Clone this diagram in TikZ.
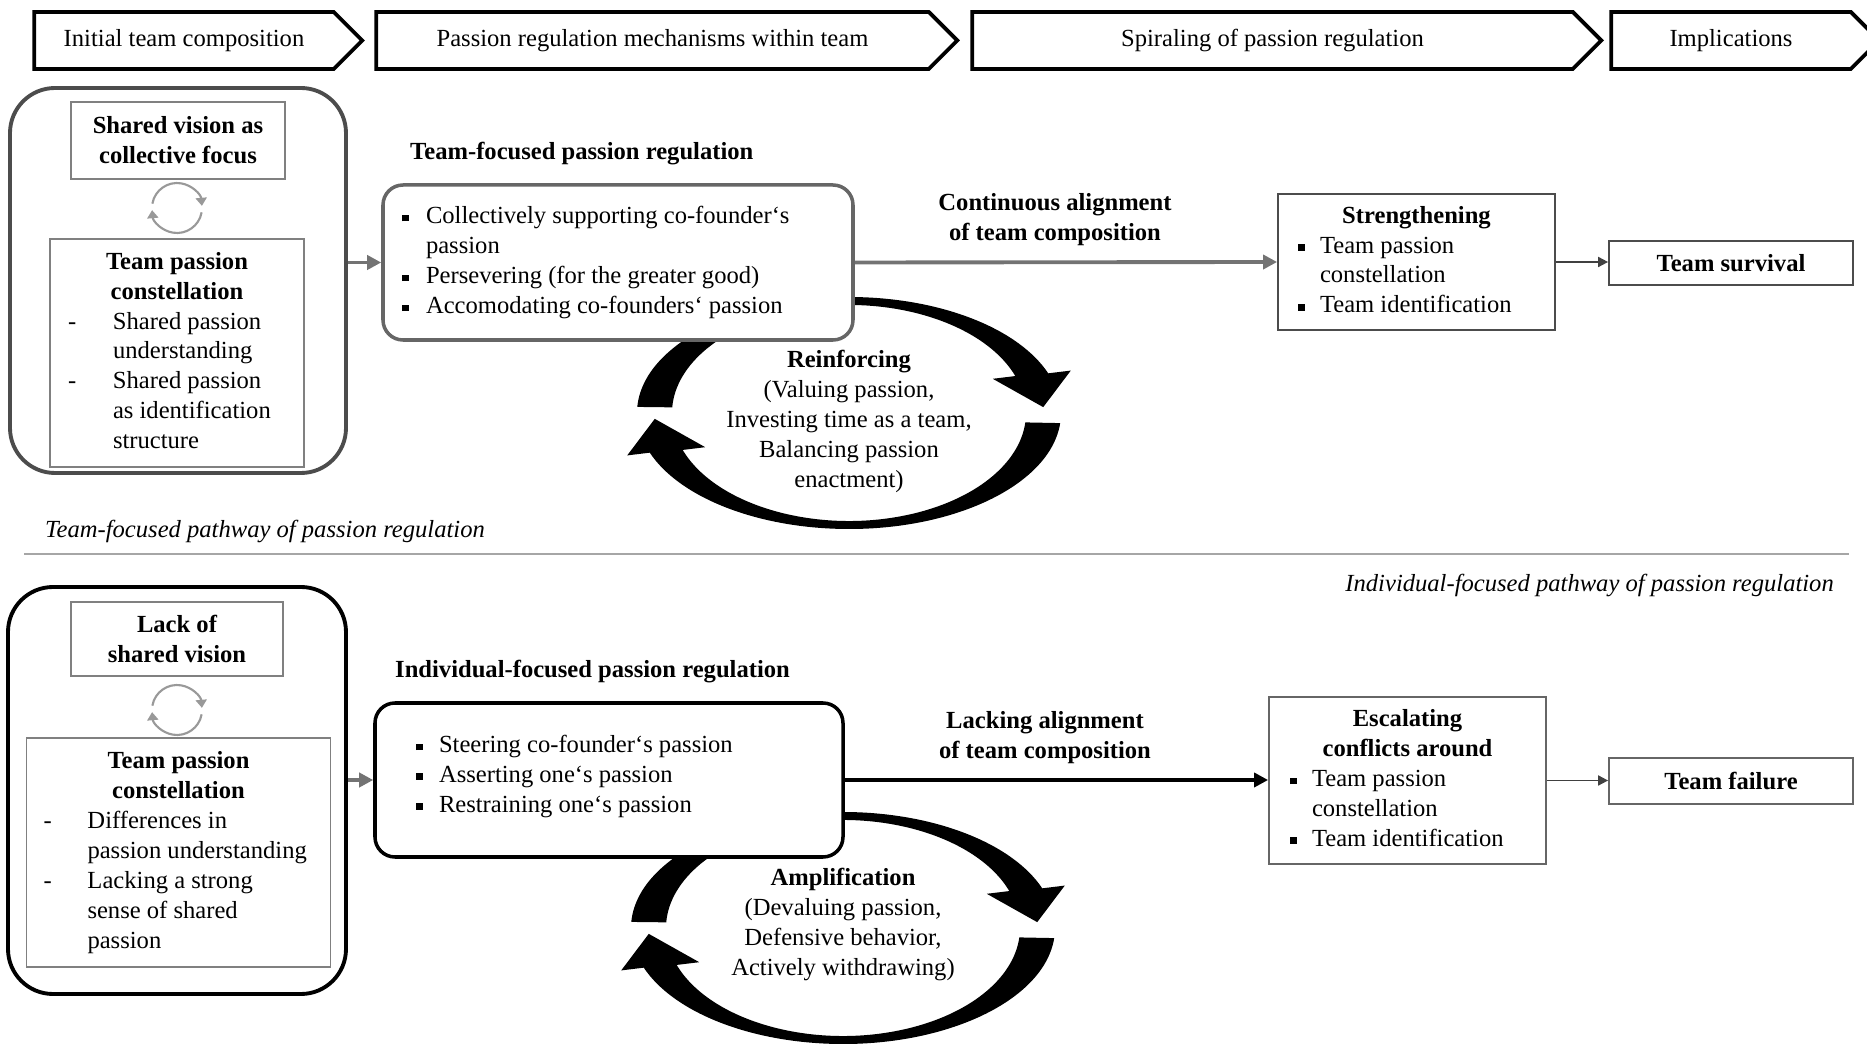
\documentclass[tikz,border=0pt]{standalone}
\usepackage{fontspec}
\setmainfont{Liberation Serif}
\usetikzlibrary{arrows.meta, shapes.symbols}
\newcommand{\sqbul}{\rule[0.45mm]{1.3mm}{1.3mm}}

\begin{document}
\begin{tikzpicture}[
        scale=2,
        >={Triangle[length=2.8mm, width=2.8mm]},
        every node/.style={font=\fontsize{14}{17}\selectfont},
        phasebox/.style={signal, signal to=east, signal pointer angle=90, draw, line width=2.2pt, minimum height=1.14cm, inner sep=0pt},
        groupbox/.style={draw, rounded corners=0.9cm, line width=2.2pt, fill=white},
        mechbox/.style={draw, rounded corners=0.4cm, line width=2pt, fill=white, inner sep=0pt},
        plainbox/.style={draw=black!50, line width=1pt, fill=white, inner sep=0pt, align=center},
        boldtext/.style={font=\fontsize{14}{17}\selectfont\bfseries, align=center},
        pathtext/.style={font=\fontsize{14}{17}\selectfont\itshape},
        link/.style={->, line width=2.2pt},
        thinlink/.style={-{Triangle[length=2mm, width=2mm]}, line width=1pt},
        cyc/.pic={
            \fill (177:2.12 and 1.16) arc[start angle=177, end angle=20, x radius=2.12, y radius=1.16]
                -- (20:2.36 and 1.24) -- (3:1.945 and 1.12) -- (20:1.53 and 1.00) -- (20:1.77 and 1.08)
                arc[start angle=20, end angle=177, x radius=1.77, y radius=1.08] -- cycle;
            \fill (-5:2.12 and 1.16) arc[start angle=-5, end angle=-160, x radius=2.12, y radius=1.16]
                -- (-160:2.36 and 1.24) -- (-177:1.945 and 1.12) -- (-160:1.53 and 1.00) -- (-160:1.77 and 1.08)
                arc[start angle=-160, end angle=-5, x radius=1.77, y radius=1.08] -- cycle;
        },
        ring/.pic={
            \draw[black!40, line width=1.2pt, -{Triangle[length=1.6mm, width=2.2mm]}] (170:0.25) arc[start angle=170, end angle=5, radius=0.25];
            \draw[black!40, line width=1.2pt, -{Triangle[length=1.6mm, width=2.2mm]}] (-10:0.25) arc[start angle=-10, end angle=-175, radius=0.25];
        }
    ]
    \useasboundingbox (0,0) rectangle (18.67,-10.47);

    % phases
    \node[phasebox, minimum width=6.56cm] (hd1) at (1.84,-0.405) {Initial team composition};
    \node[phasebox, minimum width=11.62cm] (hd2) at (6.525,-0.405) {Passion regulation mechanisms within team};
    \node[phasebox, minimum width=12.58cm] (hd3) at (12.725,-0.405) {Spiraling of passion regulation};
    \node[phasebox, minimum width=5.36cm] (hd4) at (17.31,-0.405) {Implications};

    % team-focused pathway
    \coordinate (cycT) at (8.49,-4.13);
    \pic[scale=2] at (cycT) {cyc};
    \node[groupbox, draw=black!70, minimum width=6.72cm, minimum height=7.70cm] (outT) at (1.78,-2.805) {};
    \node[plainbox, font=\fontsize{14}{17}\selectfont\bfseries, minimum width=4.28cm, minimum height=1.54cm] (visT) at (1.78,-1.405) {Shared vision as\\collective focus};
    \pic[scale=2] at (1.77,-2.08) {ring};
    \node[plainbox, minimum width=5.08cm, minimum height=4.56cm] (constT) at (1.77,-3.53) {%
        \begin{tabular}{@{}p{0.9cm}@{}p{3.46cm}@{}}
        \multicolumn{2}{@{}c@{}}{\bfseries Team passion}\\
        \multicolumn{2}{@{}c@{}}{\bfseries constellation}\\
        - & Shared passion\\
          & understanding\\
        - & Shared passion\\
          & as identification\\
          & structure
        \end{tabular}};
    \node[boldtext, anchor=west] (lblT) at (4.04,-1.54) {Team-focused passion regulation};
    \node[mechbox, draw=black!60, minimum width=9.40cm, minimum height=3.10cm] (regT) at (6.18,-2.625) {%
        \begin{tabular}{@{}p{0.48cm}@{}p{8.16cm}@{}}
        \sqbul & Collectively supporting co-founder‘s\\
               & passion\\
        \sqbul & Persevering (for the greater good)\\
        \sqbul & Accomodating co-founders‘ passion
        \end{tabular}};
    \node[align=center] (reinf) at (cycT) [yshift=-0.17cm] {\textbf{Reinforcing}\\(Valuing passion,\\Investing time as a team,\\Balancing passion\\enactment)};
    \node[boldtext] (alignT) at (10.55,-2.195) {Continuous alignment\\of team composition};
    \node[plainbox, draw=black!70, minimum width=5.54cm, minimum height=2.72cm] (strT) at (14.165,-2.62) {%
        \begin{tabular}{@{}p{0.44cm}@{}p{4.30cm}@{}}
        \multicolumn{2}{@{}c@{}}{\bfseries Strengthening}\\
        \sqbul & Team passion\\
               & constellation\\
        \sqbul & Team identification
        \end{tabular}};
    \node[plainbox, draw=black!70, font=\fontsize{14}{17}\selectfont\bfseries, minimum width=4.88cm, minimum height=0.88cm] (survT) at (17.31,-2.63) {Team survival};

    \draw[link, black!55] (outT.east |- regT.west) -- (regT.west);
    \draw[link, black!55] (regT.east) -- (strT.west);
    \draw[thinlink, black!75] (strT.east) -- (strT.east -| survT.west);

    % divider
    \node[pathtext, anchor=west] (pathT) at (0.39,-5.31) {Team-focused pathway of passion regulation};
    \draw[black!35, line width=1.7pt] (0.24,-5.54) -- (18.49,-5.54);
    \node[pathtext, anchor=east] (pathB) at (18.40,-5.85) {Individual-focused pathway of passion regulation};

    % individual-focused pathway
    \coordinate (cycB) at (8.43,-9.28);
    \pic[scale=2] at (cycB) {cyc};
    \node[groupbox, minimum width=6.76cm, minimum height=8.14cm] (outB) at (1.77,-7.905) {};
    \node[plainbox, font=\fontsize{14}{17}\selectfont\bfseries, minimum width=4.24cm, minimum height=1.48cm] (lackB) at (1.77,-6.39) {Lack of\\shared vision};
    \pic[scale=2] at (1.77,-7.10) {ring};
    \node[plainbox, minimum width=6.08cm, minimum height=4.58cm] (constB) at (1.785,-8.525) {%
        \begin{tabular}{@{}p{0.88cm}@{}p{4.52cm}@{}}
        \multicolumn{2}{@{}c@{}}{\bfseries Team passion}\\
        \multicolumn{2}{@{}c@{}}{\bfseries constellation}\\
        - & Differences in\\
          & passion understanding\\
        - & Lacking a strong\\
          & sense of shared\\
          & passion
        \end{tabular}};
    \node[boldtext, anchor=west] (lblB) at (3.89,-6.72) {Individual-focused passion regulation};
    \node[mechbox, minimum width=9.36cm, minimum height=3.08cm] (regB) at (6.09,-7.80) {%
        \begin{tabular}{@{}p{0.46cm}@{}p{7.26cm}@{}}
        \sqbul & Steering co-founder‘s passion\\
        \sqbul & Asserting one‘s passion\\
        \sqbul & Restraining one‘s passion\\[0.15cm]
        \end{tabular}};
    \node[align=center] (ampl) at (cycB) [yshift=0.07cm] {\textbf{Amplification}\\(Devaluing passion,\\Defensive behavior,\\Actively withdrawing)};
    \node[boldtext] (alignB) at (10.45,-7.38) {Lacking alignment\\of team composition};
    \node[plainbox, draw=black!60, minimum width=5.54cm, minimum height=3.34cm] (escB) at (14.075,-7.805) {%
        \begin{tabular}{@{}p{0.44cm}@{}p{4.26cm}@{}}
        \multicolumn{2}{@{}c@{}}{\bfseries Escalating}\\
        \multicolumn{2}{@{}c@{}}{\bfseries conflicts around}\\
        \sqbul & Team passion\\
               & constellation\\
        \sqbul & Team identification
        \end{tabular}};
    \node[plainbox, draw=black!60, font=\fontsize{14}{17}\selectfont\bfseries, minimum width=4.88cm, minimum height=0.92cm] (failB) at (17.31,-7.81) {Team failure};

    \draw[link, black!55] (outB.east |- regB.west) -- (regB.west);
    \draw[link, line width=2.6pt] (regB.east) -- (regB.east -| escB.west);
    \draw[thinlink, black!75] (escB.east) -- (escB.east -| failB.west);
\end{tikzpicture}
\end{document}
